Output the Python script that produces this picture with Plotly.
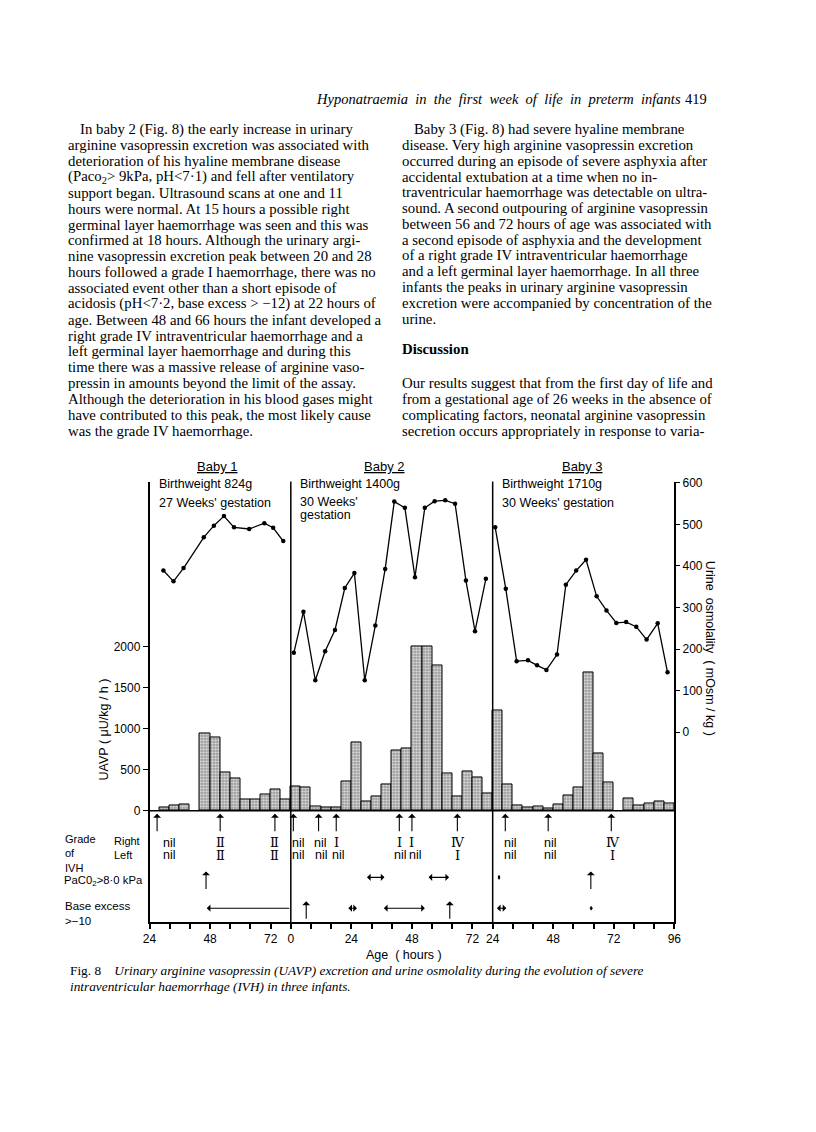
import plotly.graph_objects as go

W, H = 816, 1132

# ---------------- data ----------------
# offsets that place each baby's age (hours) on one continuous axis
baby_offsets = [-24, 56, 112]

# UAVP bars (4-hour collections): start hour and value (uU/kg/h)
baby1_bar_start = [28, 32, 36, 44, 48, 52, 56, 60, 64, 68, 72, 76]
baby1_uavp = [40, 60, 75, 940, 900, 465, 395, 135, 135, 200, 260, 140]
baby2_bar_start = [0, 4, 8, 12, 16, 20, 24, 28, 32, 36, 40, 44, 48, 52, 56, 60, 64, 68, 72, 76]
baby2_uavp = [300, 280, 50, 40, 40, 360, 830, 110, 180, 320, 735, 760, 2000, 2000, 1770, 450, 180, 485, 410, 210]
baby3_bar_start = [24, 28, 32, 36, 40, 44, 48, 52, 56, 60, 64, 68, 76, 80, 84, 88, 92]
baby3_uavp = [1220, 320, 60, 36, 48, 28, 80, 190, 285, 1690, 695, 340, 150, 60, 90, 110, 90]

# urine osmolality (mOsm/kg)
baby1_osm_t = [29.5, 33.5, 37.5, 45.5, 49.5, 53.5, 57.5, 63.5, 69.5, 73, 77]
baby1_osm = [389, 363, 395, 469, 497, 520, 493, 489, 503, 492, 460]
baby2_osm_t = [1.2, 5, 9.7, 13.6, 17.5, 21.4, 25.2, 29.3, 33.5, 37.4, 41, 45.2, 49.2, 53.1, 57, 61.2, 65.1, 69.4, 73, 77.3]
baby2_osm = [191, 290, 125, 195, 246, 347, 383, 125, 257, 393, 555, 540, 373, 540, 556, 558, 550, 365, 243, 369]
baby3_osm_t = [25, 29.2, 33.5, 38, 41.6, 45.3, 49.5, 53, 57.1, 61, 65.2, 69.1, 73, 76.9, 80.9, 85, 89.4, 93.3]
baby3_osm = [493, 345, 171, 173, 161, 150, 187, 355, 389, 415, 327, 293, 263, 265, 254, 223, 262, 144]

# ultrasound scans (arrows) and grade of IVH
scan_t = [[27, 52, 73.7], [1, 11, 18, 43, 48, 66], [29, 46, 71]]
grade_right = [["nil", "Ⅱ", "Ⅱ"], ["nil", "nil", "Ⅰ", "Ⅰ", "Ⅰ", "Ⅳ"], ["nil", "nil", "Ⅳ"]]
grade_left = [["nil", "Ⅱ", "Ⅱ"], ["nil", "nil", "nil", "nil", "nil", "Ⅰ"], ["nil", "nil", "Ⅰ"]]
grade_right_t = [[31.8, 52, 73.5], [3.2, 11.8, 18, 43, 47.9, 66.3], [31, 46.8, 71.8]]
grade_left_t = [[31.8, 52, 73.5], [3.2, 12.2, 19, 43.3, 49.6, 65.9], [31, 46.8, 71.5]]

# PaCO2 > 8.0 kPa episodes
paco2_points = [[46.4], [], [62.9]]
paco2_spans = [[], [(30.2, 37.7), (54.6, 63.3)], [(26, 27.6)]]
# base excess > -10 episodes
be_points = [[], [6.1, 63], []]
be_spans = [[], [(22.8, 26.8), (36.9, 53.7)], [(25.7, 30), (62.4, 64.3)]]
be_left_spans = [[(46.7, 80)], [], []]

x_tick_hours = [[24, 32, 40, 48, 56, 64, 72], [0, 8, 16, 24, 32, 40, 48, 56, 64, 72], [24, 32, 40, 48, 56, 64, 72, 80, 88, 96]]
x_tick_labelled = [24, 48, 72, 96, 0]

baby_titles = ["Baby 1", "Baby 2", "Baby 3"]
baby_info = [["Birthweight 824g", "27 Weeks' gestation"],
             ["Birthweight 1400g", "30 Weeks'", "gestation"],
             ["Birthweight 1710g", "30 Weeks' gestation"]]

left_col = [
    "In baby 2 (Fig. 8) the early increase in urinary",
    "arginine vasopressin excretion was associated with",
    "deterioration of his hyaline membrane disease",
    "(Paco<sub>2</sub>&gt; 9kPa, pH&lt;7·1) and fell after ventilatory",
    "support began. Ultrasound scans at one and 11",
    "hours were normal. At 15 hours a possible right",
    "germinal layer haemorrhage was seen and this was",
    "confirmed at 18 hours. Although the urinary argi-",
    "nine vasopressin excretion peak between 20 and 28",
    "hours followed a grade I haemorrhage, there was no",
    "associated event other than a short episode of",
    "acidosis (pH&lt;7·2, base excess &gt; −12) at 22 hours of",
    "age. Between 48 and 66 hours the infant developed a",
    "right grade IV intraventricular haemorrhage and a",
    "left germinal layer haemorrhage and during this",
    "time there was a massive release of arginine vaso-",
    "pressin in amounts beyond the limit of the assay.",
    "Although the deterioration in his blood gases might",
    "have contributed to this peak, the most likely cause",
    "was the grade IV haemorrhage.",
]
right_col = [
    "Baby 3 (Fig. 8) had severe hyaline membrane",
    "disease. Very high arginine vasopressin excretion",
    "occurred during an episode of severe asphyxia after",
    "accidental extubation at a time when no in-",
    "traventricular haemorrhage was detectable on ultra-",
    "sound. A second outpouring of arginine vasopressin",
    "between 56 and 72 hours of age was associated with",
    "a second episode of asphyxia and the development",
    "of a right grade IV intraventricular haemorrhage",
    "and a left germinal layer haemorrhage. In all three",
    "infants the peaks in urinary arginine vasopressin",
    "excretion were accompanied by concentration of the",
    "urine.",
]
discussion = [
    "Our results suggest that from the first day of life and",
    "from a gestational age of 26 weeks in the absence of",
    "complicating factors, neonatal arginine vasopressin",
    "secretion occurs appropriately in response to varia-",
]

# ---------------- helpers ----------------
def X(b, t):
    return t + baby_offsets[b]

def px(p):
    return p / W

def py(p):
    return 1 - p / H

SANS = "Liberation Sans, Arial, sans-serif"
SERIF = "Liberation Serif, Times New Roman, serif"
NUM = "DejaVu Serif, serif"
ann = []

def text(x, y, s, size=12, font=SANS, xanchor="left", **kw):
    fkw = kw.pop("fkw", {})
    ann.append(dict(x=x, y=y, xref="paper", yref="paper", text=s, showarrow=False,
                    xanchor=xanchor, yanchor="middle",
                    font=dict(family=font, size=size, color="black", **fkw), **kw))

fig = go.Figure()

# ---------------- bars ----------------
bar_sets = [(baby1_bar_start, baby1_uavp), (baby2_bar_start, baby2_uavp), (baby3_bar_start, baby3_uavp)]
for b, (starts, vals) in enumerate(bar_sets):
    fig.add_trace(go.Bar(
        x=[X(b, s) + 2 for s in starts], y=vals, width=[4] * len(starts),
        marker=dict(color="white", line=dict(color="black", width=1),
                    pattern=dict(shape=".", fgcolor="black", bgcolor="white", size=3, solidity=0.55)),
        yaxis="y", xaxis="x", showlegend=False, hoverinfo="skip"))

# ---------------- osmolality lines ----------------
osm_sets = [(baby1_osm_t, baby1_osm), (baby2_osm_t, baby2_osm), (baby3_osm_t, baby3_osm)]
for b, (ts, vals) in enumerate(osm_sets):
    fig.add_trace(go.Scatter(
        x=[X(b, t) for t in ts], y=vals, mode="lines+markers",
        line=dict(color="black", width=1.3), marker=dict(color="black", size=4.5),
        yaxis="y2", xaxis="x", showlegend=False, cliponaxis=False, hoverinfo="skip"))

# ---------------- axes ----------------
tickvals, ticktext = [], []
for b, hrs in enumerate(x_tick_hours):
    for h in hrs:
        tickvals.append(X(b, h))
        ticktext.append(str(h) if h in x_tick_labelled else "")

x_left, x_right = 145, 679
y_top, y_bot = 479, 921
fig.update_layout(
    width=W, height=H, margin=dict(l=0, r=0, t=0, b=0),
    paper_bgcolor="white", plot_bgcolor="white", bargap=0, barmode="overlay",
    xaxis=dict(domain=[px(x_left), px(x_right)], range=[0, 208], showline=True, linecolor="black",
               linewidth=1.5, ticks="outside", ticklen=5, tickwidth=1.5, tickcolor="black",
               tickvals=tickvals, ticktext=ticktext, showgrid=False, zeroline=False,
               tickfont=dict(family=SANS, size=12, color="black"), anchor="y"),
    yaxis=dict(domain=[py(y_bot), py(y_top)], range=[-1360, 4007], showline=True, linecolor="black",
               linewidth=1.5, ticks="outside", ticklen=5, tickcolor="black",
               tickvals=[0, 500, 1000, 1500, 2000], showgrid=False, zeroline=False,
               tickfont=dict(family=SANS, size=12, color="black")),
    yaxis2=dict(overlaying="y", side="right", range=[-457, 601], showline=True, linecolor="black",
                linewidth=1.5, ticks="outside", ticklen=4, tickcolor="black",
                tickvals=[0, 100, 200, 300, 400, 500, 600], showgrid=False, zeroline=False,
                tickfont=dict(family=SANS, size=12, color="black"), anchor="x"),
)

shapes = []
# UAVP baseline
shapes.append(dict(type="line", xref="x", yref="y", x0=0, x1=208, y0=0, y1=0,
                   line=dict(color="black", width=1.5)))
# baby dividers
for b in (1, 2):
    xd = X(b, 0 if b == 1 else 24)
    shapes.append(dict(type="line", xref="x", yref="paper", x0=xd, x1=xd, y0=py(y_bot), y1=py(478),
                       line=dict(color="black", width=1.5)))

# ---------------- annotations for rows ----------------
def up_arrow(b, t, head_px, length):
    ann.append(dict(x=X(b, t), y=py(head_px), xref="x", yref="paper", text="", showarrow=True,
                    ax=0, ay=length, arrowhead=1, arrowsize=1.2, arrowwidth=1.1, arrowcolor="black"))

def h_arrow(b, t0, t1, y_px, both=True):
    short = abs(t1 - t0) < 3
    ann.append(dict(x=X(b, t0), y=py(y_px), xref="x", yref="paper", text="", showarrow=True,
                    ax=X(b, t1), axref="x", ay=0, ayref="pixel",
                    arrowhead=1, startarrowhead=1, arrowside="end+start" if both else "end",
                    arrowsize=0.7 if short else 1.1, startarrowsize=0.7 if short else 1.1,
                    arrowwidth=1.1, arrowcolor="black"))

def grade_text(b, t, s, y_px):
    ann.append(dict(x=X(b, t), y=py(y_px), xref="x", yref="paper", text=s, showarrow=False,
                    xanchor="center", yanchor="middle",
                    font=dict(family=SANS if s == "nil" else NUM, size=12.5 if s == "nil" else 13,
                              color="black")))

for b in range(3):
    for t in scan_t[b]:
        up_arrow(b, t, 812, 19)
    for t, s in zip(grade_right_t[b], grade_right[b]):
        grade_text(b, t, s, 841)
    for t, s in zip(grade_left_t[b], grade_left[b]):
        grade_text(b, t, s, 854)
    for t in paco2_points[b]:
        up_arrow(b, t, 870, 19)
    for t0, t1 in paco2_spans[b]:
        h_arrow(b, t0, t1, 876)
    for t in be_points[b]:
        up_arrow(b, t, 900, 19)
    for t0, t1 in be_spans[b]:
        h_arrow(b, t0, t1, 907)
    for t0, t1 in be_left_spans[b]:
        h_arrow(b, t0, t1, 907, both=False)

# baby titles and info
title_px = [214, 384, 585]
info_px = [153, 296, 502]
for b in range(3):
    text(px(title_px[b]), py(463), baby_titles[b], size=13, xanchor="center",
         fkw=dict(lineposition="under"))
    lines = baby_info[b]
    ys = [481, 500] if len(lines) == 2 else [481, 499, 512]
    for s, yy in zip(lines, ys):
        text(px(info_px[b]), py(yy), s, size=12.5)

# axis titles and row labels
ann.append(dict(x=px(99), y=py(727), xref="paper", yref="paper", text="UAVP ( μU/kg / h )",
                showarrow=False, textangle=-90, xanchor="center", yanchor="middle",
                font=dict(family=SANS, size=12.5, color="black")))
ann.append(dict(x=px(716), y=py(646), xref="paper", yref="paper", text="Urine  osmolality  ( mOsm / kg )",
                showarrow=False, textangle=90, xanchor="center", yanchor="middle",
                font=dict(family=SANS, size=12.5, color="black")))
text(px(404), py(954), "Age  ( hours )", size=12.5, xanchor="center")
ann.append(dict(x=px(57), y=py(852), xref="paper", yref="paper", text="Grade<br>of<br>IVH",
                showarrow=False, xanchor="left", yanchor="middle", align="left",
                font=dict(family=SANS, size=11, color="black")))
ann.append(dict(x=px(107), y=py(846), xref="paper", yref="paper", text="Right<br>Left",
                showarrow=False, xanchor="left", yanchor="middle", align="left",
                font=dict(family=SANS, size=11, color="black")))
text(px(56), py(880), "PaC0<sub>2</sub>&gt;8·0 kPa", size=11.3)
ann.append(dict(x=px(57), y=py(912), xref="paper", yref="paper", text="Base excess<br>&gt;−10",
                showarrow=False, xanchor="left", yanchor="middle", align="left",
                font=dict(family=SANS, size=11.5, color="black")))

# ---------------- page text ----------------
text(px(312), py(93), "<i>Hyponatraemia  in  the  first  week  of  life  in  preterm  infants</i>", size=14.5, font=SERIF)
text(px(688), py(93), "419", size=14.5, font=SERIF)

for i, s in enumerate(left_col):
    text(px(72 if i == 0 else 60), py(124 + i * 15.95), s, size=14.8, font=SERIF)
for i, s in enumerate(right_col):
    text(px(412 if i == 0 else 400), py(124 + i * 15.85), s, size=14.8, font=SERIF)
text(px(400), py(345), "<b>Discussion</b>", size=14.8, font=SERIF)
for i, s in enumerate(discussion):
    text(px(400), py(379 + i * 16), s, size=14.8, font=SERIF)

text(px(62), py(970), "Fig. 8    <i>Urinary arginine vasopressin (UAVP) excretion and urine osmolality during the evolution of severe</i>",
     size=13.3, font=SERIF)
text(px(62), py(986), "<i>intraventricular haemorrhage (IVH) in three infants.</i>", size=13.3, font=SERIF)

fig.update_layout(annotations=ann, shapes=shapes)
fig.write_html("out.html", config={"displayModeBar": False},
               post_script="document.body.style.margin='0';")
